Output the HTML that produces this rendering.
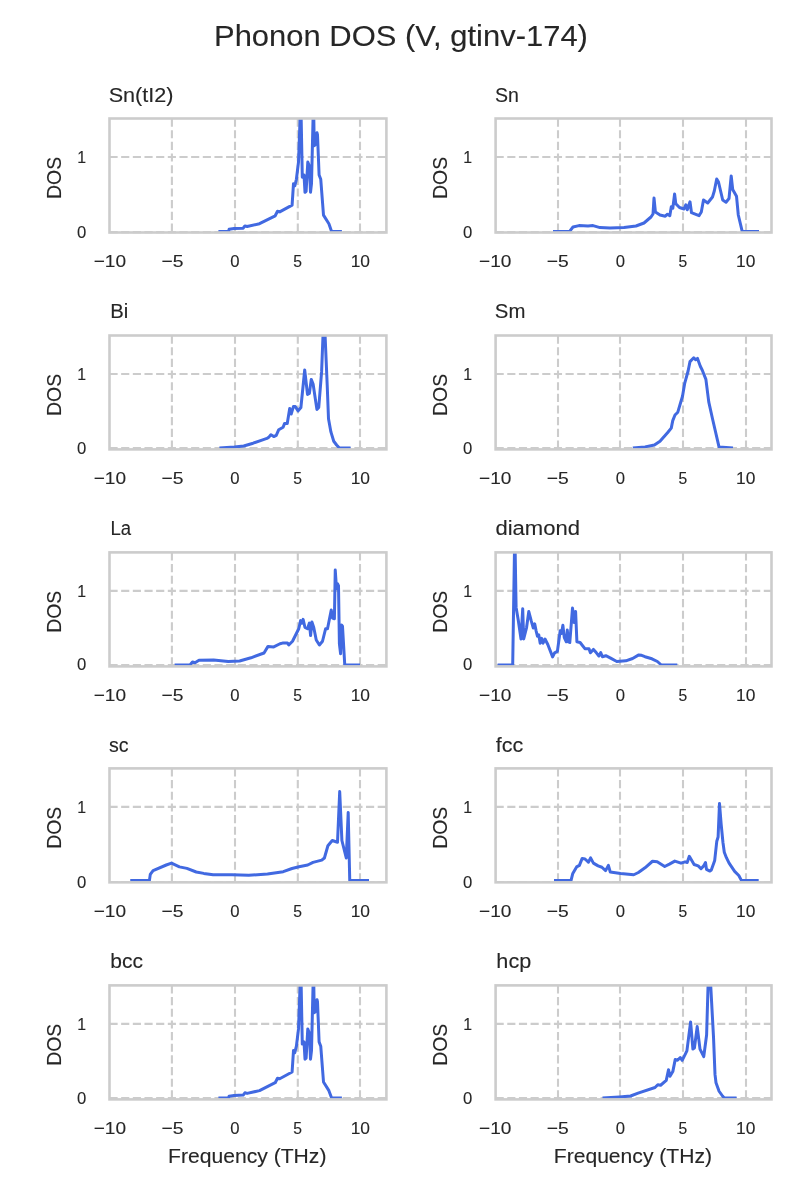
<!DOCTYPE html>
<html><head><meta charset="utf-8"><style>
html,body{margin:0;padding:0;background:#fff;}
svg{display:block;will-change:transform;}
text{font-family:"Liberation Sans",sans-serif;fill:#262626;stroke:#262626;stroke-width:0.12px;}
.gr{stroke:#cccccc;stroke-width:2.1;stroke-dasharray:8.14 3.52;fill:none;}
.sp{stroke:#cccccc;stroke-width:2.6;fill:none;}
.cv{stroke:#4169e1;stroke-width:3.0;fill:none;stroke-linejoin:round;stroke-linecap:butt;}
</style></head><body>
<svg width="800" height="1200" viewBox="0 0 800 1200">
<defs><clipPath id="c00"><rect x="109.50" y="118.50" width="276.90" height="114.00"/></clipPath><clipPath id="c01"><rect x="495.60" y="118.50" width="275.90" height="114.00"/></clipPath><clipPath id="c10"><rect x="109.50" y="335.50" width="276.90" height="113.90"/></clipPath><clipPath id="c11"><rect x="495.60" y="335.50" width="275.90" height="113.90"/></clipPath><clipPath id="c20"><rect x="109.50" y="552.40" width="276.90" height="114.00"/></clipPath><clipPath id="c21"><rect x="495.60" y="552.40" width="275.90" height="114.00"/></clipPath><clipPath id="c30"><rect x="109.50" y="768.40" width="276.90" height="113.95"/></clipPath><clipPath id="c31"><rect x="495.60" y="768.40" width="275.90" height="113.95"/></clipPath><clipPath id="c40"><rect x="109.50" y="985.40" width="276.90" height="114.00"/></clipPath><clipPath id="c41"><rect x="495.60" y="985.40" width="275.90" height="114.00"/></clipPath></defs>
<text x="400.96" y="45.50" font-size="29.47" text-anchor="middle" textLength="373.92" lengthAdjust="spacingAndGlyphs">Phonon DOS (V, gtinv-174)</text>
<line x1="171.90" y1="118.50" x2="171.90" y2="232.50" class="gr"/>
<line x1="235.00" y1="118.50" x2="235.00" y2="232.50" class="gr"/>
<line x1="297.80" y1="118.50" x2="297.80" y2="232.50" class="gr"/>
<line x1="360.00" y1="118.50" x2="360.00" y2="232.50" class="gr"/>
<line x1="109.50" y1="232.10" x2="386.40" y2="232.10" class="gr"/>
<line x1="109.50" y1="156.95" x2="386.40" y2="156.95" class="gr"/>
<polyline points="218.40,231.40 228.60,231.40 229.10,229.30 234.20,228.50 243.20,228.20 244.90,225.90 247.10,226.50 259.50,223.70 275.20,215.80 277.50,211.30 279.70,211.90 292.10,205.10 293.50,183.70 294.80,185.80 296.40,179.30 298.50,162.00 300.80,99.50 302.30,177.20 304.00,175.00 305.00,192.30 306.10,191.30 307.80,162.00 309.40,166.30 310.50,192.30 311.50,183.70 313.50,100.00 314.25,145.75 315.30,144.70 317.00,132.75 317.50,134.90 319.10,175.00 320.75,179.30 323.50,215.10 328.90,223.75 331.60,231.40 341.90,231.40" class="cv" clip-path="url(#c00)"/>
<rect x="109.50" y="118.50" width="276.90" height="114.00" class="sp"/>
<text x="108.69" y="102.30" font-size="20.56" text-anchor="start" textLength="64.86" lengthAdjust="spacingAndGlyphs">Sn(tI2)</text>
<g transform="translate(60.80,178.00) rotate(-90)"><text x="0.07" y="0.00" font-size="20.56" text-anchor="middle" textLength="42.09" lengthAdjust="spacingAndGlyphs">DOS</text></g>
<text x="86.03" y="162.90" font-size="16.75" text-anchor="end" textLength="8.84" lengthAdjust="spacingAndGlyphs">1</text>
<text x="86.30" y="237.70" font-size="16.75" text-anchor="end" textLength="9.29" lengthAdjust="spacingAndGlyphs">0</text>
<text x="109.91" y="266.80" font-size="16.75" text-anchor="middle" textLength="32.35" lengthAdjust="spacingAndGlyphs">−10</text>
<text x="172.40" y="266.80" font-size="16.75" text-anchor="middle" textLength="22.00" lengthAdjust="spacingAndGlyphs">−5</text>
<text x="234.98" y="266.80" font-size="16.75" text-anchor="middle" textLength="9.29" lengthAdjust="spacingAndGlyphs">0</text>
<text x="297.59" y="266.80" font-size="16.75" text-anchor="middle" textLength="8.74" lengthAdjust="spacingAndGlyphs">5</text>
<text x="360.35" y="266.80" font-size="16.75" text-anchor="middle" textLength="19.34" lengthAdjust="spacingAndGlyphs">10</text>
<line x1="558.00" y1="118.50" x2="558.00" y2="232.50" class="gr"/>
<line x1="620.00" y1="118.50" x2="620.00" y2="232.50" class="gr"/>
<line x1="683.00" y1="118.50" x2="683.00" y2="232.50" class="gr"/>
<line x1="746.00" y1="118.50" x2="746.00" y2="232.50" class="gr"/>
<line x1="495.60" y1="232.10" x2="771.50" y2="232.10" class="gr"/>
<line x1="495.60" y1="156.95" x2="771.50" y2="156.95" class="gr"/>
<polyline points="553.00,231.40 569.60,231.40 573.00,227.00 579.00,225.60 588.00,226.00 593.00,225.60 600.00,227.60 610.00,228.00 624.00,227.60 636.00,226.00 644.00,223.00 651.00,217.00 653.00,214.00 654.00,198.00 655.40,212.00 660.00,215.00 665.30,216.20 667.50,214.20 669.80,215.70 671.30,206.70 672.80,208.20 674.60,194.00 675.80,203.70 679.50,207.50 684.00,209.00 685.80,204.80 687.30,209.70 690.00,201.80 691.50,212.70 695.20,214.20 699.00,215.70 701.30,212.00 703.50,200.00 707.70,203.00 712.50,197.00 714.30,191.00 716.70,179.00 718.50,182.00 722.70,200.00 726.00,202.20 729.00,198.50 731.20,176.00 732.70,189.50 736.50,196.20 738.30,215.00 742.20,231.40 759.00,231.40" class="cv" clip-path="url(#c01)"/>
<rect x="495.60" y="118.50" width="275.90" height="114.00" class="sp"/>
<text x="494.88" y="102.30" font-size="20.56" text-anchor="start" textLength="23.89" lengthAdjust="spacingAndGlyphs">Sn</text>
<g transform="translate(446.80,178.00) rotate(-90)"><text x="0.07" y="0.00" font-size="20.56" text-anchor="middle" textLength="42.09" lengthAdjust="spacingAndGlyphs">DOS</text></g>
<text x="472.03" y="162.90" font-size="16.75" text-anchor="end" textLength="8.84" lengthAdjust="spacingAndGlyphs">1</text>
<text x="472.30" y="237.70" font-size="16.75" text-anchor="end" textLength="9.29" lengthAdjust="spacingAndGlyphs">0</text>
<text x="495.31" y="266.80" font-size="16.75" text-anchor="middle" textLength="32.35" lengthAdjust="spacingAndGlyphs">−10</text>
<text x="557.80" y="266.80" font-size="16.75" text-anchor="middle" textLength="22.00" lengthAdjust="spacingAndGlyphs">−5</text>
<text x="620.38" y="266.80" font-size="16.75" text-anchor="middle" textLength="9.29" lengthAdjust="spacingAndGlyphs">0</text>
<text x="682.99" y="266.80" font-size="16.75" text-anchor="middle" textLength="8.74" lengthAdjust="spacingAndGlyphs">5</text>
<text x="745.75" y="266.80" font-size="16.75" text-anchor="middle" textLength="19.34" lengthAdjust="spacingAndGlyphs">10</text>
<line x1="171.90" y1="335.50" x2="171.90" y2="449.40" class="gr"/>
<line x1="235.00" y1="335.50" x2="235.00" y2="449.40" class="gr"/>
<line x1="297.80" y1="335.50" x2="297.80" y2="449.40" class="gr"/>
<line x1="360.00" y1="335.50" x2="360.00" y2="449.40" class="gr"/>
<line x1="109.50" y1="448.00" x2="386.40" y2="448.00" class="gr"/>
<line x1="109.50" y1="373.95" x2="386.40" y2="373.95" class="gr"/>
<polyline points="219.40,448.00 234.40,446.90 243.75,446.00 253.10,443.20 261.25,440.30 266.90,438.40 269.10,436.90 270.90,434.70 273.75,436.60 276.25,435.30 278.75,429.70 283.10,427.20 284.60,423.40 287.25,423.40 289.70,408.40 291.20,414.00 293.40,406.60 295.30,406.60 298.10,410.90 300.90,407.50 304.70,370.00 307.50,394.40 309.40,393.40 311.25,379.40 313.10,384.00 316.90,409.40 318.75,407.50 321.60,371.90 324.00,310.00 327.20,385.00 328.50,418.75 330.90,431.90 333.75,441.25 336.60,445.00 339.40,448.00 350.60,448.00" class="cv" clip-path="url(#c10)"/>
<rect x="109.50" y="335.50" width="276.90" height="113.90" class="sp"/>
<text x="110.32" y="318.30" font-size="20.56" text-anchor="start" textLength="18.01" lengthAdjust="spacingAndGlyphs">Bi</text>
<g transform="translate(60.80,395.00) rotate(-90)"><text x="0.07" y="0.00" font-size="20.56" text-anchor="middle" textLength="42.09" lengthAdjust="spacingAndGlyphs">DOS</text></g>
<text x="86.03" y="379.90" font-size="16.75" text-anchor="end" textLength="8.84" lengthAdjust="spacingAndGlyphs">1</text>
<text x="86.30" y="453.60" font-size="16.75" text-anchor="end" textLength="9.29" lengthAdjust="spacingAndGlyphs">0</text>
<text x="109.91" y="483.80" font-size="16.75" text-anchor="middle" textLength="32.35" lengthAdjust="spacingAndGlyphs">−10</text>
<text x="172.40" y="483.80" font-size="16.75" text-anchor="middle" textLength="22.00" lengthAdjust="spacingAndGlyphs">−5</text>
<text x="234.98" y="483.80" font-size="16.75" text-anchor="middle" textLength="9.29" lengthAdjust="spacingAndGlyphs">0</text>
<text x="297.59" y="483.80" font-size="16.75" text-anchor="middle" textLength="8.74" lengthAdjust="spacingAndGlyphs">5</text>
<text x="360.35" y="483.80" font-size="16.75" text-anchor="middle" textLength="19.34" lengthAdjust="spacingAndGlyphs">10</text>
<line x1="558.00" y1="335.50" x2="558.00" y2="449.40" class="gr"/>
<line x1="620.00" y1="335.50" x2="620.00" y2="449.40" class="gr"/>
<line x1="683.00" y1="335.50" x2="683.00" y2="449.40" class="gr"/>
<line x1="746.00" y1="335.50" x2="746.00" y2="449.40" class="gr"/>
<line x1="495.60" y1="448.00" x2="771.50" y2="448.00" class="gr"/>
<line x1="495.60" y1="373.95" x2="771.50" y2="373.95" class="gr"/>
<polyline points="632.80,448.00 645.00,446.90 654.40,445.00 660.00,441.25 667.50,432.80 671.25,428.10 672.75,420.60 675.00,415.00 677.80,412.20 682.50,396.25 684.75,383.10 688.10,371.00 690.00,361.60 693.75,357.80 695.60,359.70 697.50,358.40 700.30,366.25 702.20,370.00 705.90,379.40 708.75,401.90 712.50,418.75 719.00,446.90 733.00,448.00" class="cv" clip-path="url(#c11)"/>
<rect x="495.60" y="335.50" width="275.90" height="113.90" class="sp"/>
<text x="494.84" y="318.30" font-size="20.56" text-anchor="start" textLength="30.57" lengthAdjust="spacingAndGlyphs">Sm</text>
<g transform="translate(446.80,395.00) rotate(-90)"><text x="0.07" y="0.00" font-size="20.56" text-anchor="middle" textLength="42.09" lengthAdjust="spacingAndGlyphs">DOS</text></g>
<text x="472.03" y="379.90" font-size="16.75" text-anchor="end" textLength="8.84" lengthAdjust="spacingAndGlyphs">1</text>
<text x="472.30" y="453.60" font-size="16.75" text-anchor="end" textLength="9.29" lengthAdjust="spacingAndGlyphs">0</text>
<text x="495.31" y="483.80" font-size="16.75" text-anchor="middle" textLength="32.35" lengthAdjust="spacingAndGlyphs">−10</text>
<text x="557.80" y="483.80" font-size="16.75" text-anchor="middle" textLength="22.00" lengthAdjust="spacingAndGlyphs">−5</text>
<text x="620.38" y="483.80" font-size="16.75" text-anchor="middle" textLength="9.29" lengthAdjust="spacingAndGlyphs">0</text>
<text x="682.99" y="483.80" font-size="16.75" text-anchor="middle" textLength="8.74" lengthAdjust="spacingAndGlyphs">5</text>
<text x="745.75" y="483.80" font-size="16.75" text-anchor="middle" textLength="19.34" lengthAdjust="spacingAndGlyphs">10</text>
<line x1="171.90" y1="552.40" x2="171.90" y2="666.40" class="gr"/>
<line x1="235.00" y1="552.40" x2="235.00" y2="666.40" class="gr"/>
<line x1="297.80" y1="552.40" x2="297.80" y2="666.40" class="gr"/>
<line x1="360.00" y1="552.40" x2="360.00" y2="666.40" class="gr"/>
<line x1="109.50" y1="665.00" x2="386.40" y2="665.00" class="gr"/>
<line x1="109.50" y1="590.85" x2="386.40" y2="590.85" class="gr"/>
<polyline points="174.60,665.00 190.00,665.00 192.50,661.90 195.00,662.70 199.00,660.25 213.60,660.00 228.25,661.50 239.60,661.00 251.00,657.80 264.00,653.00 268.00,646.40 273.75,646.90 280.00,643.75 282.50,643.10 287.50,643.10 288.75,645.00 292.50,641.25 298.75,628.75 300.60,620.60 301.90,623.10 303.10,619.40 305.00,627.50 307.50,628.75 309.40,623.10 310.60,635.60 311.90,621.90 313.75,627.50 316.25,640.00 319.40,645.00 322.50,641.25 325.60,628.75 327.50,628.75 331.25,610.00 332.50,618.10 334.40,618.75 335.25,570.00 336.50,588.75 337.50,583.75 338.50,585.60 339.40,643.75 340.60,653.75 341.50,625.00 342.50,626.25 344.75,665.00 360.00,665.00" class="cv" clip-path="url(#c20)"/>
<rect x="109.50" y="552.40" width="276.90" height="114.00" class="sp"/>
<text x="110.56" y="535.40" font-size="20.56" text-anchor="start" textLength="20.63" lengthAdjust="spacingAndGlyphs">La</text>
<g transform="translate(60.80,611.90) rotate(-90)"><text x="0.07" y="0.00" font-size="20.56" text-anchor="middle" textLength="42.09" lengthAdjust="spacingAndGlyphs">DOS</text></g>
<text x="86.03" y="596.80" font-size="16.75" text-anchor="end" textLength="8.84" lengthAdjust="spacingAndGlyphs">1</text>
<text x="86.30" y="670.30" font-size="16.75" text-anchor="end" textLength="9.29" lengthAdjust="spacingAndGlyphs">0</text>
<text x="109.91" y="700.70" font-size="16.75" text-anchor="middle" textLength="32.35" lengthAdjust="spacingAndGlyphs">−10</text>
<text x="172.40" y="700.70" font-size="16.75" text-anchor="middle" textLength="22.00" lengthAdjust="spacingAndGlyphs">−5</text>
<text x="234.98" y="700.70" font-size="16.75" text-anchor="middle" textLength="9.29" lengthAdjust="spacingAndGlyphs">0</text>
<text x="297.59" y="700.70" font-size="16.75" text-anchor="middle" textLength="8.74" lengthAdjust="spacingAndGlyphs">5</text>
<text x="360.35" y="700.70" font-size="16.75" text-anchor="middle" textLength="19.34" lengthAdjust="spacingAndGlyphs">10</text>
<line x1="558.00" y1="552.40" x2="558.00" y2="666.40" class="gr"/>
<line x1="620.00" y1="552.40" x2="620.00" y2="666.40" class="gr"/>
<line x1="683.00" y1="552.40" x2="683.00" y2="666.40" class="gr"/>
<line x1="746.00" y1="552.40" x2="746.00" y2="666.40" class="gr"/>
<line x1="495.60" y1="665.00" x2="771.50" y2="665.00" class="gr"/>
<line x1="495.60" y1="590.85" x2="771.50" y2="590.85" class="gr"/>
<polyline points="497.60,665.00 512.70,665.00 514.80,530.00 516.10,607.40 518.20,619.80 521.00,639.00 522.70,608.80 523.70,639.00 526.50,628.00 528.80,611.50 531.30,621.20 533.30,628.00 534.70,623.90 536.10,630.80 537.50,636.30 538.80,634.90 540.20,643.20 541.60,638.40 543.00,643.20 545.00,639.00 547.80,644.50 552.60,656.90 554.60,652.80 557.40,651.40 560.20,630.80 561.50,633.50 562.90,625.30 564.30,637.70 566.30,641.80 567.30,630.10 568.40,641.80 569.80,642.50 572.50,608.10 574.20,622.50 575.60,611.50 576.90,641.80 580.10,642.50 584.90,648.70 589.00,648.70 590.40,652.80 593.40,649.40 596.20,652.60 598.90,656.00 600.70,652.60 602.40,656.70 605.80,655.70 610.60,658.10 616.80,661.50 625.80,660.80 632.60,658.50 638.80,654.90 641.60,655.30 645.00,656.70 651.90,658.80 657.40,661.50 661.30,665.00 677.30,665.00" class="cv" clip-path="url(#c21)"/>
<rect x="495.60" y="552.40" width="275.90" height="114.00" class="sp"/>
<text x="495.43" y="535.40" font-size="20.56" text-anchor="start" textLength="84.50" lengthAdjust="spacingAndGlyphs">diamond</text>
<g transform="translate(446.80,611.90) rotate(-90)"><text x="0.07" y="0.00" font-size="20.56" text-anchor="middle" textLength="42.09" lengthAdjust="spacingAndGlyphs">DOS</text></g>
<text x="472.03" y="596.80" font-size="16.75" text-anchor="end" textLength="8.84" lengthAdjust="spacingAndGlyphs">1</text>
<text x="472.30" y="670.30" font-size="16.75" text-anchor="end" textLength="9.29" lengthAdjust="spacingAndGlyphs">0</text>
<text x="495.31" y="700.70" font-size="16.75" text-anchor="middle" textLength="32.35" lengthAdjust="spacingAndGlyphs">−10</text>
<text x="557.80" y="700.70" font-size="16.75" text-anchor="middle" textLength="22.00" lengthAdjust="spacingAndGlyphs">−5</text>
<text x="620.38" y="700.70" font-size="16.75" text-anchor="middle" textLength="9.29" lengthAdjust="spacingAndGlyphs">0</text>
<text x="682.99" y="700.70" font-size="16.75" text-anchor="middle" textLength="8.74" lengthAdjust="spacingAndGlyphs">5</text>
<text x="745.75" y="700.70" font-size="16.75" text-anchor="middle" textLength="19.34" lengthAdjust="spacingAndGlyphs">10</text>
<line x1="171.90" y1="768.40" x2="171.90" y2="882.35" class="gr"/>
<line x1="235.00" y1="768.40" x2="235.00" y2="882.35" class="gr"/>
<line x1="297.80" y1="768.40" x2="297.80" y2="882.35" class="gr"/>
<line x1="360.00" y1="768.40" x2="360.00" y2="882.35" class="gr"/>
<line x1="109.50" y1="882.00" x2="386.40" y2="882.00" class="gr"/>
<line x1="109.50" y1="806.85" x2="386.40" y2="806.85" class="gr"/>
<polyline points="130.25,880.60 149.40,880.60 150.30,874.40 153.10,870.60 166.25,865.00 171.50,863.10 179.40,866.90 186.90,868.40 196.25,872.00 203.75,873.40 213.10,874.75 231.90,874.75 248.75,875.30 267.50,874.10 283.25,871.70 292.00,868.50 299.00,866.75 307.75,865.00 313.00,862.40 321.75,860.10 324.40,858.00 327.90,845.75 332.25,840.50 337.50,842.25 339.70,791.50 341.90,840.50 346.25,858.00 348.20,812.50 349.75,880.60 369.00,880.60" class="cv" clip-path="url(#c30)"/>
<rect x="109.50" y="768.40" width="276.90" height="113.95" class="sp"/>
<text x="108.93" y="752.20" font-size="20.56" text-anchor="start" textLength="19.55" lengthAdjust="spacingAndGlyphs">sc</text>
<g transform="translate(60.80,827.90) rotate(-90)"><text x="0.07" y="0.00" font-size="20.56" text-anchor="middle" textLength="42.09" lengthAdjust="spacingAndGlyphs">DOS</text></g>
<text x="86.03" y="812.80" font-size="16.75" text-anchor="end" textLength="8.84" lengthAdjust="spacingAndGlyphs">1</text>
<text x="86.30" y="887.60" font-size="16.75" text-anchor="end" textLength="9.29" lengthAdjust="spacingAndGlyphs">0</text>
<text x="109.91" y="916.70" font-size="16.75" text-anchor="middle" textLength="32.35" lengthAdjust="spacingAndGlyphs">−10</text>
<text x="172.40" y="916.70" font-size="16.75" text-anchor="middle" textLength="22.00" lengthAdjust="spacingAndGlyphs">−5</text>
<text x="234.98" y="916.70" font-size="16.75" text-anchor="middle" textLength="9.29" lengthAdjust="spacingAndGlyphs">0</text>
<text x="297.59" y="916.70" font-size="16.75" text-anchor="middle" textLength="8.74" lengthAdjust="spacingAndGlyphs">5</text>
<text x="360.35" y="916.70" font-size="16.75" text-anchor="middle" textLength="19.34" lengthAdjust="spacingAndGlyphs">10</text>
<line x1="558.00" y1="768.40" x2="558.00" y2="882.35" class="gr"/>
<line x1="620.00" y1="768.40" x2="620.00" y2="882.35" class="gr"/>
<line x1="683.00" y1="768.40" x2="683.00" y2="882.35" class="gr"/>
<line x1="746.00" y1="768.40" x2="746.00" y2="882.35" class="gr"/>
<line x1="495.60" y1="882.00" x2="771.50" y2="882.00" class="gr"/>
<line x1="495.60" y1="806.85" x2="771.50" y2="806.85" class="gr"/>
<polyline points="554.00,880.60 571.00,880.60 572.80,873.40 576.60,866.90 579.40,865.40 582.20,858.40 585.00,859.00 588.40,862.20 590.60,857.90 593.40,863.10 598.10,865.90 601.90,867.25 605.60,870.60 608.40,865.40 610.30,872.10 620.60,873.40 633.75,874.75 638.40,872.50 645.00,867.80 652.50,861.25 657.20,861.80 664.70,866.50 669.40,864.10 674.80,861.10 681.00,863.20 685.10,861.80 687.20,862.50 689.30,856.30 694.10,864.50 698.20,865.90 701.00,868.70 703.70,865.90 705.50,862.50 706.50,869.35 709.90,871.10 711.30,870.00 714.70,860.40 716.80,841.20 718.10,837.00 719.50,803.50 721.20,824.60 722.96,842.50 724.30,852.20 726.40,857.70 729.10,863.20 734.65,871.40 738.80,875.50 741.50,880.60 758.70,880.60" class="cv" clip-path="url(#c31)"/>
<rect x="495.60" y="768.40" width="275.90" height="113.95" class="sp"/>
<text x="495.71" y="752.20" font-size="20.56" text-anchor="start" textLength="27.45" lengthAdjust="spacingAndGlyphs">fcc</text>
<g transform="translate(446.80,827.90) rotate(-90)"><text x="0.07" y="0.00" font-size="20.56" text-anchor="middle" textLength="42.09" lengthAdjust="spacingAndGlyphs">DOS</text></g>
<text x="472.03" y="812.80" font-size="16.75" text-anchor="end" textLength="8.84" lengthAdjust="spacingAndGlyphs">1</text>
<text x="472.30" y="887.60" font-size="16.75" text-anchor="end" textLength="9.29" lengthAdjust="spacingAndGlyphs">0</text>
<text x="495.31" y="916.70" font-size="16.75" text-anchor="middle" textLength="32.35" lengthAdjust="spacingAndGlyphs">−10</text>
<text x="557.80" y="916.70" font-size="16.75" text-anchor="middle" textLength="22.00" lengthAdjust="spacingAndGlyphs">−5</text>
<text x="620.38" y="916.70" font-size="16.75" text-anchor="middle" textLength="9.29" lengthAdjust="spacingAndGlyphs">0</text>
<text x="682.99" y="916.70" font-size="16.75" text-anchor="middle" textLength="8.74" lengthAdjust="spacingAndGlyphs">5</text>
<text x="745.75" y="916.70" font-size="16.75" text-anchor="middle" textLength="19.34" lengthAdjust="spacingAndGlyphs">10</text>
<line x1="171.90" y1="985.40" x2="171.90" y2="1099.40" class="gr"/>
<line x1="235.00" y1="985.40" x2="235.00" y2="1099.40" class="gr"/>
<line x1="297.80" y1="985.40" x2="297.80" y2="1099.40" class="gr"/>
<line x1="360.00" y1="985.40" x2="360.00" y2="1099.40" class="gr"/>
<line x1="109.50" y1="1098.00" x2="386.40" y2="1098.00" class="gr"/>
<line x1="109.50" y1="1023.85" x2="386.40" y2="1023.85" class="gr"/>
<polyline points="218.40,1098.00 228.60,1098.00 229.10,1096.20 234.20,1095.40 243.20,1095.10 244.90,1092.80 247.10,1093.40 259.50,1090.60 275.20,1082.70 277.50,1078.20 279.70,1078.80 292.10,1072.00 293.50,1050.60 294.80,1052.70 296.40,1046.20 298.50,1028.90 300.80,966.40 302.30,1044.10 304.00,1041.90 305.00,1059.20 306.10,1058.20 307.80,1028.90 309.40,1033.20 310.50,1059.20 311.50,1050.60 313.50,966.90 314.25,1012.65 315.30,1011.60 317.00,999.65 317.50,1001.80 319.10,1041.90 320.75,1046.20 323.50,1082.00 328.90,1090.65 331.60,1098.00 341.90,1098.00" class="cv" clip-path="url(#c40)"/>
<rect x="109.50" y="985.40" width="276.90" height="114.00" class="sp"/>
<text x="110.38" y="968.40" font-size="20.56" text-anchor="start" textLength="32.67" lengthAdjust="spacingAndGlyphs">bcc</text>
<g transform="translate(60.80,1044.90) rotate(-90)"><text x="0.07" y="0.00" font-size="20.56" text-anchor="middle" textLength="42.09" lengthAdjust="spacingAndGlyphs">DOS</text></g>
<text x="86.03" y="1029.80" font-size="16.75" text-anchor="end" textLength="8.84" lengthAdjust="spacingAndGlyphs">1</text>
<text x="86.30" y="1103.60" font-size="16.75" text-anchor="end" textLength="9.29" lengthAdjust="spacingAndGlyphs">0</text>
<text x="109.91" y="1133.70" font-size="16.75" text-anchor="middle" textLength="32.35" lengthAdjust="spacingAndGlyphs">−10</text>
<text x="172.40" y="1133.70" font-size="16.75" text-anchor="middle" textLength="22.00" lengthAdjust="spacingAndGlyphs">−5</text>
<text x="234.98" y="1133.70" font-size="16.75" text-anchor="middle" textLength="9.29" lengthAdjust="spacingAndGlyphs">0</text>
<text x="297.59" y="1133.70" font-size="16.75" text-anchor="middle" textLength="8.74" lengthAdjust="spacingAndGlyphs">5</text>
<text x="360.35" y="1133.70" font-size="16.75" text-anchor="middle" textLength="19.34" lengthAdjust="spacingAndGlyphs">10</text>
<text x="247.30" y="1162.60" font-size="20.56" text-anchor="middle" textLength="158.33" lengthAdjust="spacingAndGlyphs">Frequency (THz)</text>
<line x1="558.00" y1="985.40" x2="558.00" y2="1099.40" class="gr"/>
<line x1="620.00" y1="985.40" x2="620.00" y2="1099.40" class="gr"/>
<line x1="683.00" y1="985.40" x2="683.00" y2="1099.40" class="gr"/>
<line x1="746.00" y1="985.40" x2="746.00" y2="1099.40" class="gr"/>
<line x1="495.60" y1="1098.00" x2="771.50" y2="1098.00" class="gr"/>
<line x1="495.60" y1="1023.85" x2="771.50" y2="1023.85" class="gr"/>
<polyline points="602.50,1098.00 619.40,1096.90 630.60,1096.00 638.10,1093.10 655.00,1087.50 657.80,1084.70 660.60,1085.25 666.25,1080.40 668.50,1069.70 670.00,1076.25 672.80,1071.60 675.25,1059.40 677.50,1060.30 680.30,1057.50 682.20,1060.30 686.90,1050.90 690.60,1021.90 692.90,1049.10 694.40,1048.10 697.20,1026.60 700.00,1049.10 703.75,1056.60 706.60,1035.00 709.00,954.00 713.50,1036.90 715.00,1074.40 716.00,1082.80 719.10,1091.25 722.50,1096.00 724.40,1098.00 736.60,1098.00" class="cv" clip-path="url(#c41)"/>
<rect x="495.60" y="985.40" width="275.90" height="114.00" class="sp"/>
<text x="496.38" y="968.40" font-size="20.56" text-anchor="start" textLength="34.88" lengthAdjust="spacingAndGlyphs">hcp</text>
<g transform="translate(446.80,1044.90) rotate(-90)"><text x="0.07" y="0.00" font-size="20.56" text-anchor="middle" textLength="42.09" lengthAdjust="spacingAndGlyphs">DOS</text></g>
<text x="472.03" y="1029.80" font-size="16.75" text-anchor="end" textLength="8.84" lengthAdjust="spacingAndGlyphs">1</text>
<text x="472.30" y="1103.60" font-size="16.75" text-anchor="end" textLength="9.29" lengthAdjust="spacingAndGlyphs">0</text>
<text x="495.31" y="1133.70" font-size="16.75" text-anchor="middle" textLength="32.35" lengthAdjust="spacingAndGlyphs">−10</text>
<text x="557.80" y="1133.70" font-size="16.75" text-anchor="middle" textLength="22.00" lengthAdjust="spacingAndGlyphs">−5</text>
<text x="620.38" y="1133.70" font-size="16.75" text-anchor="middle" textLength="9.29" lengthAdjust="spacingAndGlyphs">0</text>
<text x="682.99" y="1133.70" font-size="16.75" text-anchor="middle" textLength="8.74" lengthAdjust="spacingAndGlyphs">5</text>
<text x="745.75" y="1133.70" font-size="16.75" text-anchor="middle" textLength="19.34" lengthAdjust="spacingAndGlyphs">10</text>
<text x="632.90" y="1162.60" font-size="20.56" text-anchor="middle" textLength="158.33" lengthAdjust="spacingAndGlyphs">Frequency (THz)</text>
</svg></body></html>
